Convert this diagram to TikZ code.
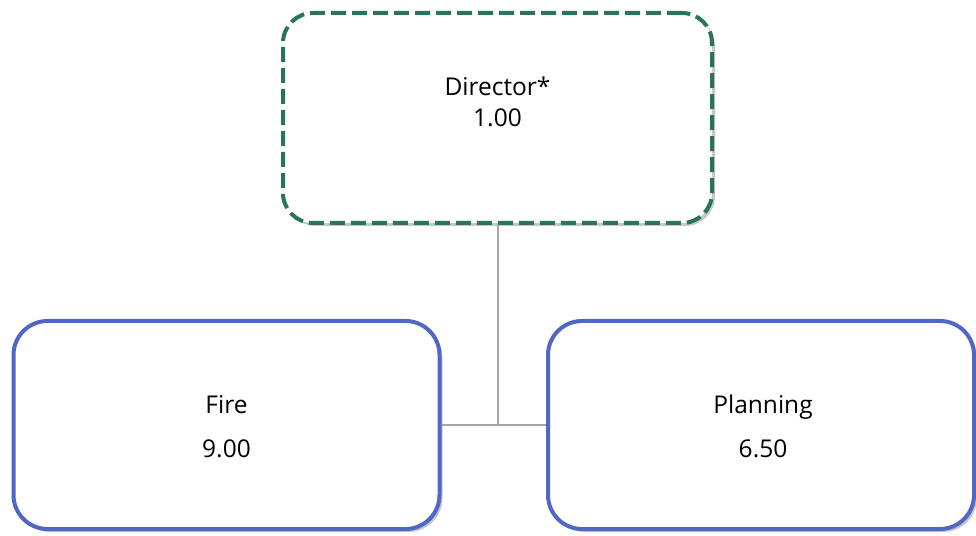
\documentclass[tikz,border=0pt]{standalone}
\usepackage{fontspec}
\setmainfont{Open Sans}
\usetikzlibrary{shadows}

\definecolor{dirgreen}{RGB}{42,115,95}
\definecolor{unitblue}{RGB}{80,103,200}
\definecolor{linkgray}{RGB}{166,166,166}

\tikzset{
  unitbox/.style={draw=unitblue, line width=4pt, rounded corners=34pt, fill=white,
    minimum width=426pt, minimum height=208pt,
    drop shadow={shadow xshift=3pt, shadow yshift=-3pt, opacity=0.45, fill=gray}},
  dirbox/.style={unitbox, draw=dirgreen, rounded corners=30pt, dash pattern=on 15pt off 6pt,
    minimum width=429pt, minimum height=210pt},
  boxtext/.style={font=\fontsize{24.5}{28}\selectfont, inner sep=0pt, anchor=base},
  link/.style={draw=linkgray, line width=2pt}
}

\begin{document}
\begin{tikzpicture}[x=1pt, y=1pt]
    \useasboundingbox (0,0) rectangle (976,535);

    % boxes
    \node[dirbox]  (dir)  at (497.5, 417) {};
    \node[unitbox] (fire) at (226.5, 110) {};
    \node[unitbox] (plan) at (761, 110) {};

    % texts
    \node[boxtext] (dirname) at ([yshift=22pt]dir.center) {Director*};
    \node[boxtext] (dirfte)  at ([yshift=-9pt]dir.center) {1.00};
    \node[boxtext] (firename) at ([yshift=11pt]fire.center) {Fire};
    \node[boxtext] (firefte)  at ([yshift=-33pt]fire.center) {9.00};
    \node[boxtext] (planname) at ([xshift=2pt, yshift=11pt]plan.center) {Planning};
    \node[boxtext] (planfte)  at ([xshift=2pt, yshift=-33pt]plan.center) {6.50};

    % connectors
    \coordinate (joint) at (dir.south |- fire.east);
    \draw[link] (dir.south) -- (joint);
    \draw[link] (fire.east) -- (plan.west);

\end{tikzpicture}
\end{document}
